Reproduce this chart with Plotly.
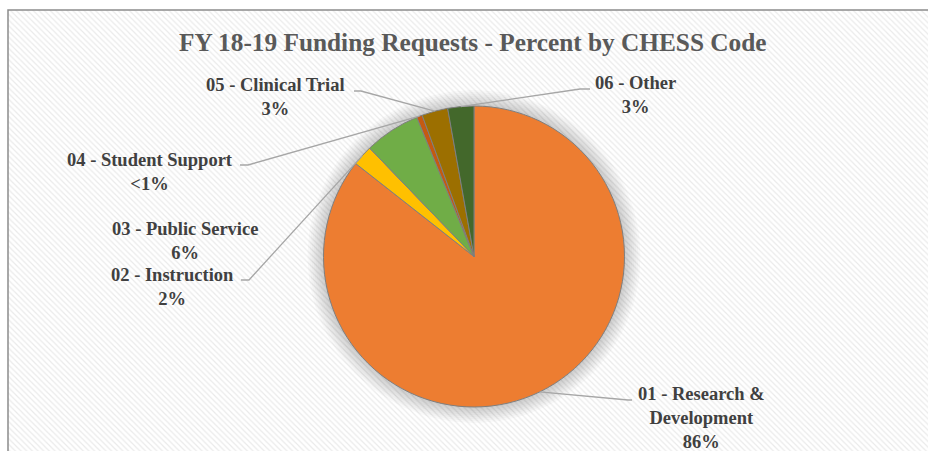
import numpy as np
import plotly.graph_objects as go

W, H = 928, 451

# data
codes = ["01 - Research &<br>Development", "02 - Instruction", "03 - Public Service",
         "04 - Student Support", "05 - Clinical Trial", "06 - Other"]
shares = [85.6, 2.2, 6.0, 0.6, 2.8, 2.8]
pct_text = ["86%", "2%", "6%", "<1%", "3%", "3%"]
colors = ["#ED7D31", "#FFC000", "#70AD47", "#C55A11", "#9C6F00", "#43682B"]

# layout (pixel space, origin top-left)
CX, CY, R = 474, 256.5, 150.5
label_xy = [(701, 418), (172, 287), (185, 241), (150, 172), (275, 97), (635, 95)]
leader_start = [(632, 400), (241, 280), None, (240, 165), (354, 91), (590, 89)]
leader_elbow = [-4, 8, 0, 8, 7, -10]

SERIF = "Liberation Serif, Times New Roman, serif"

fig = go.Figure()

# chart area hatch
fig.add_trace(go.Scatter(
    x=[8, W + 2, W + 2, 8], y=[10, 10, H + 2, H + 2],
    fill="toself", mode="lines", line=dict(width=0),
    fillcolor="white",
    fillpattern=dict(shape="\\", fgcolor="#d6d6d6", bgcolor="white", size=4, solidity=0.3),
    hoverinfo="skip", showlegend=False,
))

# soft shadow around the pie
t = np.linspace(0, 2 * np.pi, 120)
for k in range(1, 9):
    rr = R + 2 * k
    fig.add_trace(go.Scatter(
        x=CX + rr * np.cos(t), y=CY + rr * np.sin(t),
        fill="toself", mode="lines", line=dict(width=0),
        fillcolor="rgba(0,0,0,0.025)", hoverinfo="skip", showlegend=False,
    ))

fig.add_trace(go.Pie(
    values=shares, labels=[c.replace("<br>", " ") for c in codes],
    sort=False, direction="clockwise", rotation=0,
    textinfo="none", hoverinfo="label+percent",
    marker=dict(colors=colors, line=dict(color="#7f7f7f", width=1)),
    domain=dict(x=[(CX - R) / W, (CX + R) / W], y=[1 - (CY + R) / H, 1 - (CY - R) / H]),
    showlegend=False,
))

# leader lines to slice mid-arcs, labels
vals = np.array(shares)
mid = (np.cumsum(vals) - vals / 2) / vals.sum() * 2 * np.pi
shapes = []
annotations = []
for i, code in enumerate(codes):
    lx, ly = label_xy[i]
    annotations.append(dict(
        x=lx, y=ly, xref="x", yref="y", showarrow=False,
        text=f"{code}<br>{pct_text[i]}", align="center",
        xanchor="center", yanchor="middle", borderpad=0,
        font=dict(family=SERIF, size=18.5, color="#404040", weight="bold"),
    ))
    if leader_start[i] is None:
        continue
    sx, sy = leader_start[i]
    px = CX + R * np.sin(mid[i])
    py = CY - R * np.cos(mid[i])
    ex = sx + leader_elbow[i]
    shapes.append(dict(
        type="path", xref="x", yref="y", layer="above",
        path=f"M {sx},{sy} L {ex},{sy} L {px:.1f},{py:.1f}",
        line=dict(color="#a6a6a6", width=1.3),
    ))

# chart border (top/left visible, rest cropped)
shapes.append(dict(
    type="rect", xref="x", yref="y", x0=8, y0=10, x1=W + 5, y1=H + 5,
    line=dict(color="#8c8c8c", width=1.5), layer="above",
))

annotations.append(dict(
    x=473, y=42, xref="x", yref="y", showarrow=False,
    text="FY 18-19 Funding Requests - Percent by CHESS Code",
    xanchor="center", yanchor="middle",
    font=dict(family=SERIF, size=25.3, color="#595959", weight="bold"),
))

fig.update_layout(
    width=W, height=H,
    margin=dict(l=0, r=0, t=0, b=0),
    paper_bgcolor="white", plot_bgcolor="white",
    xaxis=dict(range=[0, W], visible=False, fixedrange=True),
    yaxis=dict(range=[H, 0], visible=False, fixedrange=True),
    shapes=shapes, annotations=annotations,
    showlegend=False,
)

fig.write_html(
    "out.html",
    config={"displayModeBar": False},
    post_script="document.body.style.margin='0';document.body.style.overflow='hidden';",
)
